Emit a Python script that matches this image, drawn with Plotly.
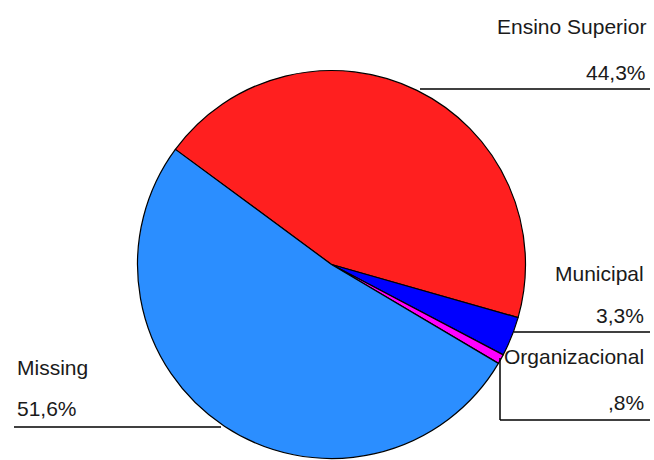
import plotly.graph_objects as go

labels = ["Ensino Superior", "Municipal", "Organizacional", "Missing"]
values = [44.3, 3.3, 0.8, 51.6]
pct_text = ["44,3%", "3,3%", ",8%", "51,6%"]
colors = ["#FF1F1F", "#0000FF", "#FF00FF", "#2B8EFF"]

W, H = 654, 460

def px(x):
    return x / W

def py(y):
    return 1 - y / H

cx, cy, r = 331.5, 264.5, 194

fig = go.Figure()
fig.add_trace(go.Pie(
    labels=labels, values=values, sort=False, direction="clockwise",
    rotation=-53.6, textinfo="none", hoverinfo="label+percent",
    marker=dict(colors=colors, line=dict(color="black", width=1.2)),
    domain=dict(x=[px(cx - r), px(cx + r)], y=[py(cy + r), py(cy - r)]),
    showlegend=False,
))

font = dict(family="Liberation Sans, Arial, sans-serif", size=21, color="#1a1a1a")

# label placements: (name x, name y, pct y, anchor)
label_pos = [
    (648, 27, 72, "right"),
    (646, 273, 315, "right"),
    (646, 356, 402, "right"),
    (15, 367, 408, "left"),
]
annotations = []
for (x, y1, y2, anc), name, pt in zip(label_pos, labels, pct_text):
    annotations.append(dict(x=px(x), y=py(y1), xref="paper", yref="paper", text=name,
                            showarrow=False, xanchor=anc, yanchor="middle", font=font))
    annotations.append(dict(x=px(x), y=py(y2), xref="paper", yref="paper", text=pt,
                            showarrow=False, xanchor=anc, yanchor="middle", font=font))

line = dict(color="black", width=1.5)
shapes = [
    dict(type="line", xref="paper", yref="paper", x0=px(420), y0=py(89), x1=px(650), y1=py(89), line=line),
    dict(type="line", xref="paper", yref="paper", x0=px(514), y0=py(332), x1=px(650), y1=py(332), line=line),
    dict(type="line", xref="paper", yref="paper", x0=px(500), y0=py(358), x1=px(500), y1=py(420), line=line),
    dict(type="line", xref="paper", yref="paper", x0=px(500), y0=py(420), x1=px(650), y1=py(420), line=line),
    dict(type="line", xref="paper", yref="paper", x0=px(14), y0=py(427), x1=px(221), y1=py(427), line=line),
]

fig.update_layout(
    width=W, height=H, margin=dict(l=0, r=0, t=0, b=0),
    paper_bgcolor="white", plot_bgcolor="white",
    annotations=annotations, shapes=shapes,
)

fig.write_html("out.html", config={"displayModeBar": False},
               post_script="document.body.style.margin='0';document.body.style.overflow='hidden';")
